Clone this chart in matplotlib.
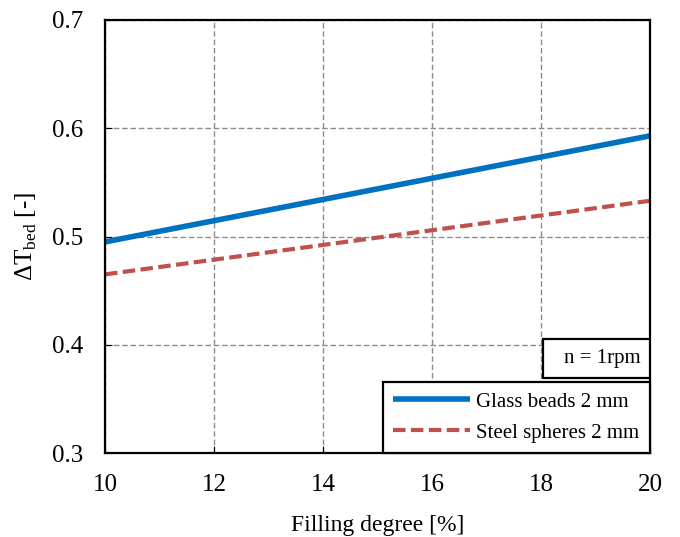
import matplotlib
matplotlib.use('Agg')
import matplotlib.pyplot as plt
from matplotlib.patches import Rectangle

plt.rcParams['font.family'] = ['Liberation Serif', 'DejaVu Serif']
plt.rcParams['mathtext.fontset'] = 'custom'
plt.rcParams['mathtext.rm'] = 'Liberation Serif'

filling = [10, 12, 14, 16, 18, 20]
glass = [0.495, 0.5146, 0.5342, 0.5538, 0.5734, 0.593]
steel = [0.465, 0.4786, 0.4922, 0.5058, 0.5194, 0.533]
yticks = [0.3, 0.4, 0.5, 0.6, 0.7]

fig = plt.figure(figsize=(6.8, 5.37), dpi=100)
ax = fig.add_axes([105/680, 84/537, 545/680, 433/537])

ax.plot(filling, glass, color='#0070C0', lw=4, solid_capstyle='butt', label='Glass beads 2 mm')
ax.plot(filling, steel, color='#C0504D', lw=3, ls=(0, (3, 1.3)), label='Steel spheres 2 mm')

ax.set_xlim(10, 20)
ax.set_ylim(0.3, 0.7)
ax.set_xticks(filling)
ax.set_yticks(yticks)
ax.set_yticklabels([str(v) for v in yticks])
ax.grid(True, color='#8c8c8c', ls=(0, (4, 2)), lw=1)
ax.tick_params(direction='in', length=5, labelsize=18)
ax.tick_params(axis='y', pad=16)
ax.tick_params(axis='x', pad=15)
for s in ax.spines.values():
    s.set_linewidth(1.6)

ax.set_xlabel('Filling degree [%]', fontsize=17, labelpad=14)
ax.set_ylabel(r'$\Delta$T$_{\mathrm{bed}}$ [-]', fontsize=18, labelpad=9)

leg = ax.legend(loc='lower right', fontsize=15, frameon=True, fancybox=False,
                edgecolor='black', framealpha=1, borderaxespad=0, handlelength=3.7,
                handletextpad=0.3, borderpad=0.5, labelspacing=0.55)
leg.get_frame().set_linewidth(1.6)

ax.add_patch(Rectangle((0.804, 0.173), 0.196, 0.09, transform=ax.transAxes,
                       fc='white', ec='black', lw=1.6, zorder=4))
ax.text(0.982, 0.219, 'n = 1rpm', transform=ax.transAxes, ha='right', va='center',
        fontsize=15, zorder=5)

fig.savefig('out.png', dpi=100)
